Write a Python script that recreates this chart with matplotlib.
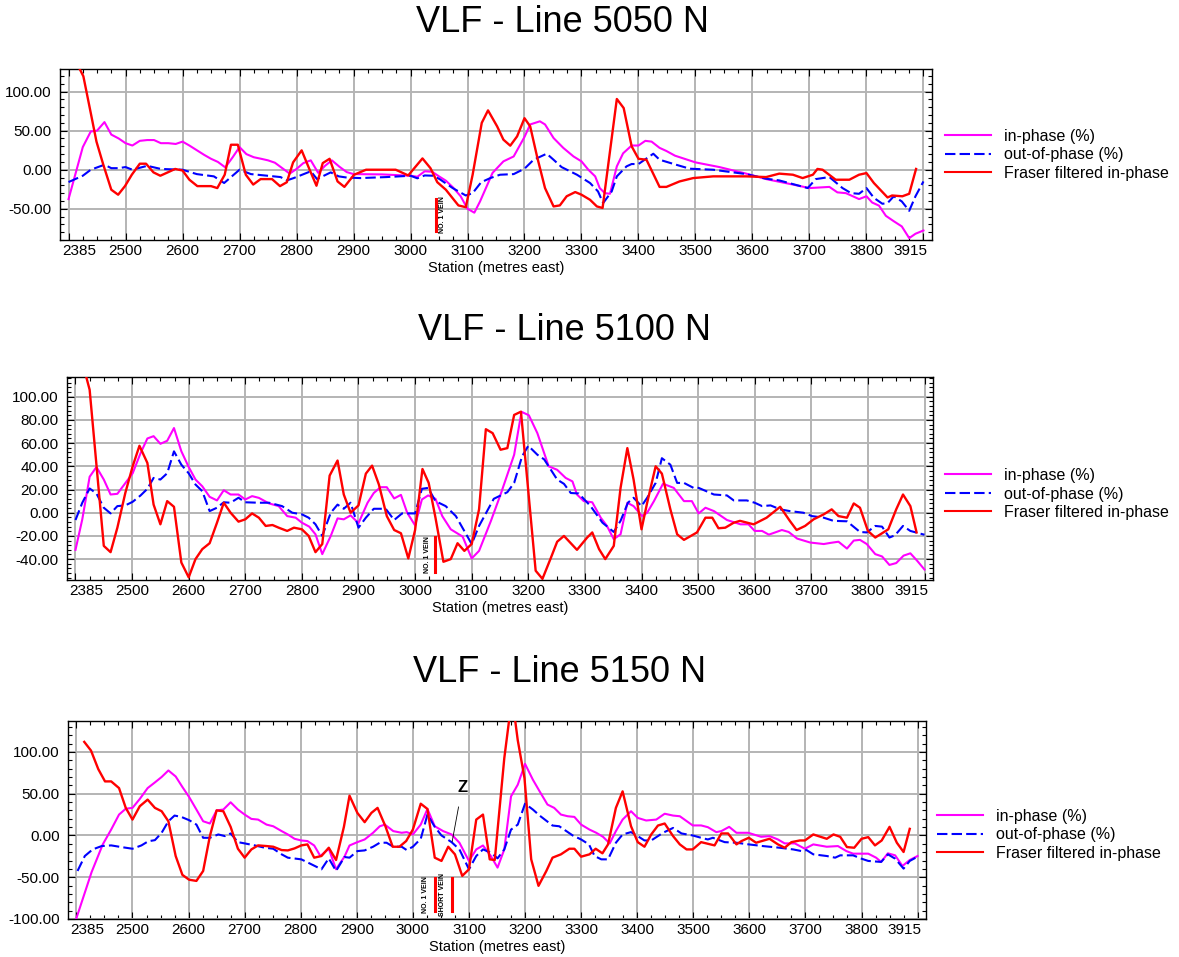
import matplotlib
matplotlib.use("Agg")
import matplotlib.pyplot as plt
from matplotlib.lines import Line2D
from matplotlib.ticker import MultipleLocator, FormatStrFormatter
from matplotlib.transforms import ScaledTranslation

plt.rcParams['font.family'] = ['Liberation Sans', 'DejaVu Sans']

# ---------------- data : Line 5050 N ----------------
s1_in = [2400, 2425, 2439, 2450, 2463, 2475, 2488, 2500, 2512, 2525,
         2538, 2550, 2562, 2575, 2588, 2600, 2612, 2625, 2638, 2650,
         2662, 2675, 2688, 2700, 2712, 2725, 2738, 2750, 2762, 2775,
         2788, 2800, 2812, 2825, 2838, 2850, 2862, 2875, 2888, 2900,
         2950, 3000, 3012, 3025, 3038, 3050, 3062, 3075, 3088, 3100,
         3112, 3122, 3144, 3163, 3181, 3200, 3210, 3227, 3236, 3251,
         3268, 3286, 3300, 3312, 3324, 3332, 3341, 3350, 3362, 3373,
         3388, 3400, 3412, 3423, 3437, 3449, 3464, 3500, 3542, 3589,
         3624, 3671, 3700, 3735, 3749, 3764, 3787, 3800, 3810, 3822,
         3834, 3848, 3862, 3875, 3886, 3900]
v1_in = [-37.6, 29, 49, 50, 61, 45, 40, 34, 31, 37,
         38, 38, 34, 34, 33, 36, 31, 25, 19, 14,
         10, 3, 16, 29, 20, 16, 14, 12, 9, 2,
         -5, 1, 8.5, 12, -4, 5, 12, 4, -3, -5.6,
         -6, -7.7, -9, -2, -2.6, -8.5, -14, -23, -34, -50,
         -55, -40.6, -4, 10.7, 17, 42, 58, 62, 58, 40.6,
         28, 17, 10.7, 0, -8.5, -23.5, -30, -30.8, 4.3, 21,
         31, 31, 37, 36, 28, 24, 18, 9.4, 3.4, -5,
         -12, -19, -23.5, -22, -29, -30, -37.6, -34, -42, -46,
         -59, -66, -72.6, -87.6, -82, -77.8]

s1_out = [2400, 2425, 2439, 2463, 2475, 2488, 2500, 2512, 2538, 2562,
          2600, 2625, 2655, 2673, 2700, 2720, 2749, 2772, 2783, 2795,
          2825, 2836, 2860, 2874, 2888, 2912, 2958, 3000, 3012, 3025,
          3040, 3051, 3074, 3097, 3109, 3124, 3140, 3157, 3181, 3200,
          3216, 3239, 3251, 3265, 3292, 3315, 3329, 3338, 3353, 3362,
          3379, 3388, 3400, 3426, 3437, 3466, 3490, 3531, 3589, 3624,
          3647, 3671, 3697, 3711, 3735, 3758, 3773, 3787, 3800, 3813,
          3828, 3837, 3848, 3862, 3875, 3886, 3900]
v1_out = [-15.8, -7.7, 0, 6.4, 2, 2, 3.4, 0, 5, 1,
          0, -5.6, -8.5, -17, 0, -5.6, -7.7, -9.4, -13.7, -10.7,
          -2, -12, -3.4, -8.5, -10, -10.7, -9.4, -7.7, -11, -7.3,
          -7.7, -12, -23.5, -33, -30, -16, -10.7, -6.4, -5.6, 1.3,
          12.8, 20.5, 12.8, 3.4, -6.4, -17, -27.8, -42.7, -27.8, -8.5,
          4.3, 7.3, 7.3, 20.5, 12.8, 6.4, 1.3, 0, -5.6, -11.5,
          -13.7, -18.4, -23.5, -12, -9.4, -23.5, -30, -30.8, -23.5, -36,
          -43.6, -42.7, -34, -40.6, -52.6, -34, -15]

s1_fr = [2412, 2426, 2439, 2449, 2461, 2475, 2487, 2499, 2511, 2525,
         2536, 2549, 2561, 2574, 2587, 2600, 2612, 2626, 2650, 2661,
         2674, 2685, 2697, 2711, 2724, 2737, 2757, 2771, 2783, 2794,
         2809, 2823, 2835, 2846, 2858, 2872, 2884, 2901, 2922, 2974,
         2996, 3021, 3035, 3047, 3062, 3084, 3097, 3109, 3125, 3136,
         3152, 3163, 3175, 3187, 3200, 3210, 3222, 3236, 3251, 3262,
         3274, 3289, 3300, 3315, 3327, 3337, 3362, 3374, 3388, 3400,
         3414, 3437, 3449, 3472, 3496, 3531, 3589, 3624, 3647, 3671,
         3688, 3706, 3714, 3723, 3746, 3770, 3787, 3800, 3813, 3837,
         3845, 3863, 3875, 3887]
v1_fr = [140, 119.7, 72.6, 36, 6.4, -25.6, -32, -21, -6.4, 7.7,
         7.7, -3.4, -7.7, -3.4, 1, -1, -12.8, -21, -21, -23.5,
         -6.4, 32, 32, -6.4, -19, -12, -12, -21, -16, 9.4,
         24.8, 0, -20.5, 8.5, 14, -15, -22, -6.4, 0, 0,
         -7.3, 14.5, 2, -16, -25.6, -45.7, -48, -6.4, 60, 76,
         55.5, 38.5, 30.8, 42.7, 66, 55.5, 17, -23.5, -47, -45.7,
         -34, -28.6, -32, -38.5, -47, -49, 90.6, 79, 30, 14,
         12.8, -22, -22, -15, -10.7, -8.5, -8.5, -9.4, -5, -6.4,
         -10.7, -6.4, 1, 0, -12.8, -12.8, -6.4, -4.3, -17, -35.5,
         -33, -34, -30.8, 1]

# ---------------- data : Line 5100 N ----------------
s2_in = [2400, 2412, 2425, 2437, 2450, 2462, 2474, 2501, 2515, 2527,
         2538, 2550, 2562, 2574, 2587, 2600, 2612, 2624, 2637, 2650,
         2662, 2674, 2688, 2700, 2712, 2724, 2742, 2759, 2774, 2789,
         2800, 2813, 2824, 2836, 2851, 2863, 2874, 2886, 2900, 2916,
         2927, 2939, 2950, 2963, 2975, 2986, 3000, 3012, 3023, 3036,
         3048, 3063, 3084, 3100, 3113, 3134, 3151, 3175, 3188, 3201,
         3216, 3236, 3251, 3266, 3278, 3286, 3298, 3313, 3328, 3339,
         3351, 3363, 3375, 3386, 3401, 3410, 3422, 3438, 3457, 3475,
         3489, 3501, 3513, 3528, 3551, 3575, 3589, 3600, 3613, 3625,
         3636, 3648, 3660, 3675, 3698, 3722, 3734, 3748, 3763, 3775,
         3786, 3798, 3813, 3825, 3838, 3850, 3863, 3875, 3887, 3900]
v2_in = [-32, -5.7, 31, 39.4, 28.6, 15.7, 16.3, 34, 51.4, 64,
         66, 59.4, 62, 73, 53, 39.4, 28.6, 22.8, 13.7, 10.6,
         19.4, 15.7, 15.7, 11.4, 14.3, 12.8, 8, 5.7, -2.9, -4.3,
         -8.6, -12, -18.6, -35.7, -20, -4.9, -5.7, -2.3, -9, 8.6,
         17, 22, 22, 12.3, 15.4, 0, -10.9, 11.4, 14.9, 12,
         -2.9, -14.3, -20.6, -39.4, -32.9, -7, 15.7, 50, 87, 84,
         68.6, 40, 37, 30, 27, 15.7, 10, 9, -4.3, -11.4,
         -22.8, -18.6, 8.6, 5.7, -2.9, 0, 10, 25, 21.4, 10,
         10, -0.6, 4.3, 1.4, -6.3, -10, -10, -15.7, -15.7, -18.9,
         -17, -14.9, -16.6, -22.3, -25.7, -27, -26, -25, -30.9, -24,
         -23.4, -27, -35.7, -37.7, -45, -43.4, -37, -35, -41.4, -49]

s2_out = [2400, 2412, 2425, 2437, 2450, 2462, 2474, 2488, 2501, 2515,
          2527, 2538, 2550, 2562, 2574, 2587, 2600, 2612, 2624, 2637,
          2650, 2662, 2674, 2688, 2700, 2724, 2742, 2765, 2783, 2800,
          2812, 2824, 2836, 2851, 2863, 2874, 2886, 2900, 2913, 2927,
          2948, 2963, 2977, 3000, 3012, 3023, 3036, 3054, 3072, 3100,
          3113, 3139, 3163, 3175, 3189, 3200, 3216, 3228, 3251, 3263,
          3275, 3289, 3310, 3331, 3351, 3363, 3376, 3386, 3400, 3410,
          3425, 3436, 3451, 3463, 3475, 3492, 3501, 3528, 3551, 3563,
          3586, 3600, 3613, 3628, 3645, 3662, 3686, 3701, 3722, 3739,
          3763, 3786, 3798, 3813, 3825, 3838, 3848, 3862, 3875, 3900]
v2_out = [-6.3, 8.6, 20.9, 16.6, 4.3, -0.6, 5.7, 6.3, 9.4, 14.9,
          20.6, 30, 28.6, 34, 52.9, 41.4, 34, 24.3, 18.6, 1.4,
          4.3, 9, 8.6, 12.9, 9, 8.6, 8.6, 5.7, 0, -1.4,
          -4.3, -10, -20, 0, 7, 3.4, 8.6, -12.9, -4.3, 3.4,
          3.4, -6.3, -0.6, -0.6, 20.6, 21.4, 10, 5.7, -2.9, -27,
          -11.4, 12, 17.7, 25.7, 48.6, 57.7, 50, 46, 28.6, 24.9,
          17, 16.6, 5.7, -8.6, -16.6, -7, 8.6, 12.9, 5.7, 12.9,
          25.7, 47, 41.4, 25.7, 25.7, 21.4, 21.4, 15.7, 14.9, 10.6,
          10.6, 8.6, 5.7, 6.3, 2.9, 1.4, 0, -2.9, -4.3, -7,
          -7.4, -16.6, -17, -11.4, -12, -21.4, -19.4, -11.4, -15.7, -19]

s2_fr = [2412, 2425, 2450, 2462, 2474, 2488, 2501, 2513, 2527, 2538,
         2550, 2562, 2574, 2587, 2600, 2612, 2624, 2637, 2650, 2662,
         2674, 2688, 2700, 2712, 2724, 2736, 2748, 2759, 2774, 2786,
         2800, 2812, 2824, 2836, 2849, 2863, 2874, 2886, 2900, 2913,
         2924, 2936, 2950, 2963, 2975, 2988, 3000, 3013, 3024, 3036,
         3050, 3063, 3075, 3087, 3100, 3113, 3125, 3137, 3151, 3163,
         3175, 3187, 3213, 3225, 3239, 3251, 3263, 3286, 3304, 3313,
         3325, 3336, 3351, 3363, 3375, 3386, 3400, 3410, 3425, 3436,
         3451, 3463, 3475, 3498, 3513, 3525, 3536, 3548, 3563, 3574,
         3598, 3621, 3645, 3662, 3674, 3689, 3704, 3722, 3736, 3748,
         3763, 3775, 3786, 3800, 3813, 3836, 3850, 3862, 3875, 3886]
v2_fr = [130, 106, -28.6, -34, -12.9, 17, 40, 57.7, 42.9, 7,
         -10, 10, 5.1, -42.9, -55.7, -40, -31.4, -26.3, -8.6, 8.6,
         0, -7.7, -5.7, -0.6, -4.3, -11.4, -10.6, -12.9, -15.7, -12.9,
         -14.3, -20, -34, -27, 32, 45, 15.7, 0, 6.3, 33.7,
         40.6, 24.3, -2.9, -14.9, -17.7, -39.4, -14.9, 37.7, 25.7, -4.3,
         -42.3, -40, -26.3, -32.9, -27, 2.9, 72, 68.6, 54.3, 55.7,
         84.3, 87.1, -50, -57, -40, -25, -20, -32, -21.4, -17,
         -31.4, -40, -28.6, 21.4, 55.7, 28.6, -14.3, 8.6, 40, 33.7,
         2.9, -18.6, -23.4, -17, -4.3, -4.3, -13.4, -12.9, -8.6, -7,
         -10, -4.3, 5.1, -7, -14.9, -11.4, -5.7, -1.4, 2.9, -2.9,
         -4.3, 8, 4.3, -15.7, -21.4, -14.3, 2.9, 15.7, 5.7, -17]

# ---------------- data : Line 5150 N ----------------
s3_in = [2400, 2427, 2447, 2462, 2476, 2488, 2500, 2513, 2527, 2540,
         2552, 2564, 2577, 2589, 2601, 2614, 2626, 2638, 2650, 2662,
         2675, 2688, 2700, 2712, 2724, 2739, 2751, 2766, 2777, 2789,
         2801, 2812, 2824, 2835, 2850, 2863, 2878, 2887, 2901, 2914,
         2929, 2941, 2950, 2965, 2980, 2989, 3000, 3014, 3026, 3039,
         3054, 3069, 3083, 3100, 3113, 3125, 3139, 3151, 3163, 3175,
         3187, 3200, 3214, 3226, 3240, 3252, 3264, 3276, 3288, 3300,
         3315, 3327, 3339, 3351, 3362, 3374, 3389, 3401, 3416, 3434,
         3449, 3464, 3476, 3499, 3514, 3526, 3541, 3550, 3564, 3577,
         3598, 3621, 3636, 3651, 3663, 3681, 3699, 3714, 3738, 3758,
         3773, 3785, 3812, 3826, 3835, 3847, 3860, 3873, 3886, 3900]
v3_in = [-99, -44, -10.7, 7.1, 25, 32, 33, 43.7, 56.7, 63.5,
         70, 77.8, 70.6, 58, 46, 31, 17, 14.3, 30, 31,
         39.7, 31, 25, 19.8, 19, 13, 11, 5.2, 1.2, -4,
         -6, -6.7, -12, -24.6, -15.9, -40.5, -25.4, -12, -8, -4.8,
         3.2, 11, 13, 5.2, 3.2, 4, 1.2, 13, 31.7, 11,
         5.2, 1.2, -8.7, -30.5, -16.7, -12, -24.6, -38.5, -16.7, 46.8,
         60.7, 85.7, 66.7, 52.8, 37, 33, 25, 23, 22.2, 13,
         7, 3.2, -1.6, -9.5, 5.2, 19, 29, 21, 17.9, 19,
         26, 23.8, 23, 12, 12, 9.9, 4, 5.2, 10.3, 3.2,
         3.2, -1.6, -0.8, -4.8, -9.5, -9.5, -15.9, -10.7, -13.5, -12.7,
         -18.7, -21.8, -21.8, -26.6, -31.7, -21.4, -23.8, -36.5, -29.4, -24.6]

s3_out = [2402, 2415, 2429, 2445, 2462, 2480, 2500, 2516, 2528, 2540,
          2552, 2564, 2575, 2587, 2601, 2614, 2626, 2638, 2653, 2665,
          2675, 2688, 2700, 2718, 2736, 2751, 2766, 2777, 2801, 2813,
          2825, 2837, 2850, 2863, 2878, 2887, 2901, 2914, 2929, 2941,
          2953, 2965, 2980, 2989, 3000, 3014, 3026, 3039, 3051, 3069,
          3083, 3100, 3113, 3125, 3139, 3151, 3163, 3175, 3187, 3200,
          3214, 3226, 3249, 3261, 3285, 3300, 3314, 3324, 3336, 3348,
          3362, 3374, 3389, 3401, 3413, 3425, 3446, 3464, 3479, 3499,
          3514, 3526, 3535, 3556, 3577, 3599, 3624, 3654, 3678, 3693,
          3702, 3714, 3738, 3753, 3762, 3785, 3800, 3812, 3835, 3847,
          3860, 3875, 3886, 3900]
v3_out = [-42.5, -24.6, -16.7, -12.7, -11.9, -13.9, -15.9, -11.9, -7, -5.6,
          3.2, 17, 23.8, 22.2, 18.3, 13, -2.8, -2.8, 1.2, -0.8,
          2.4, -8, -9.5, -11.9, -14.7, -15.9, -22.6, -26.6, -28.6, -32.5,
          -36.5, -40.5, -27.4, -42.5, -25.8, -26.6, -18.7, -17.9, -13.5, -8.7,
          -8.7, -13.5, -13.5, -17.5, -13.5, -4, 25, 10.3, 0, -8,
          -16.7, -40.5, -24.6, -16.7, -20.6, -27.4, -16.7, 7, 13, 38,
          31, 23.8, 11.9, 11, 0, -4.8, -10.7, -24.6, -28.6, -28.6,
          -8.7, 1.2, 4, -0.8, -6, -6, 3.2, 9, 2.4, 0,
          -2.8, -4.8, -2.8, -8, -8.7, -10.7, -12.7, -14.7, -16.7, -18.7,
          -17.5, -22.6, -24.6, -26.6, -23.8, -23.8, -27.8, -30.5, -31.7, -22.6,
          -27.8, -39.7, -30.5, -25.4]

s3_fr = [2414, 2426, 2439, 2451, 2462, 2476, 2488, 2500, 2513, 2527,
         2540, 2552, 2564, 2577, 2589, 2601, 2614, 2626, 2638, 2650,
         2662, 2675, 2688, 2700, 2712, 2724, 2739, 2751, 2766, 2777,
         2789, 2801, 2812, 2824, 2837, 2850, 2863, 2877, 2887, 2901,
         2914, 2926, 2937, 2951, 2964, 2976, 2988, 3000, 3014, 3026,
         3039, 3051, 3063, 3075, 3088, 3100, 3113, 3125, 3137, 3146,
         3163, 3172, 3180, 3187, 3199, 3211, 3224, 3238, 3249, 3264,
         3279, 3288, 3300, 3315, 3326, 3338, 3348, 3362, 3374, 3389,
         3401, 3413, 3425, 3437, 3449, 3464, 3476, 3488, 3499, 3514,
         3538, 3550, 3562, 3577, 3586, 3599, 3612, 3636, 3651, 3663,
         3675, 3690, 3699, 3714, 3738, 3750, 3762, 3774, 3787, 3800,
         3812, 3824, 3836, 3850, 3863, 3875, 3886]
v3_fr = [112, 101.6, 79.4, 64.7, 64.7, 56.7, 33, 19, 35, 42.9,
         33, 29, 17, -24.6, -47.2, -53, -54.4, -42.5, -0.8, 30,
         29, 10.3, -15.9, -26.6, -16.7, -11.9, -12.7, -13.5, -17.5, -17.9,
         -15.5, -11.9, -10.7, -26.6, -24.6, -14.7, -29.4, 10.3, 47.6, 27,
         15.9, 27, 33, 11, -13.5, -13.5, -6.7, 7.1, 38, 31.7,
         -26.6, -30.5, -13.5, -22.6, -48.4, -40.5, 19, 25, -28.6, -29.4,
         92.5, 140, 150, 114, 68.7, -28.6, -60.3, -42.5, -26.6, -22.6,
         -15.9, -15.9, -25.4, -22.6, -15.9, -21.4, -10.7, 33, 52.8, 11,
         -8, -13.5, 1.2, 11.9, 14.3, -0.8, -10.7, -16.7, -16.7, -8,
         -11.9, 2.4, 2.4, -10.7, -6.7, -2.8, -8.7, -4, -10.7, -14.7,
         -8, -6, -6, 1.2, -4, 1.2, -1.6, -13.9, -14.7, -4,
         -2, -11.9, -6, 10.3, -8.7, -19.8, 7.9]

titles = ["VLF - Line 5050 N", "VLF - Line 5100 N", "VLF - Line 5150 N"]
legend_labels = ["in-phase (%)", "out-of-phase (%)", "Fraser filtered in-phase"]
x_ticks = list(range(2400, 3901, 100))
x_ticklabels = ["2385"] + [str(t) for t in x_ticks[1:-1]] + ["3915"]

MAG = "#ff00ff"
BLU = "#0000ff"
RED = "#ff0000"

W, H = 1179, 957
fig = plt.figure(figsize=(W / 100, H / 100), dpi=100)


def fig_rect(left, top, right, bottom):
    return [left / W, 1 - bottom / H, (right - left) / W, (bottom - top) / H]


def draw_panel(rect, s_in, v_in, s_out, v_out, s_fr, v_fr, ylim, ystep, yminor,
               title, title_xy, leg_xy):
    ax = fig.add_axes(rect)
    ax.plot(s_in, v_in, color=MAG, lw=1.5, zorder=3)
    ax.plot(s_out, v_out, color=BLU, lw=1.5, dashes=(5, 2), zorder=3)
    ax.plot(s_fr, v_fr, color=RED, lw=1.7, zorder=4)
    ax.set_xlim(2385, 3915)
    ax.set_ylim(*ylim)
    ax.set_xticks(x_ticks)
    ax.set_xticklabels(x_ticklabels)
    ax.xaxis.set_minor_locator(MultipleLocator(25))
    ax.yaxis.set_major_locator(MultipleLocator(ystep))
    ax.yaxis.set_minor_locator(MultipleLocator(yminor))
    ax.yaxis.set_major_formatter(FormatStrFormatter('%.2f'))
    ax.tick_params(which='both', direction='in', top=True, right=True,
                   color='black', width=0.8, labelsize=11)
    ax.tick_params(which='major', length=5)
    ax.tick_params(which='minor', length=3)
    ax.tick_params(axis='y', pad=6)
    ax.tick_params(axis='x', pad=3)
    labs = ax.get_xticklabels()
    labs[0].set_horizontalalignment('left')
    labs[0].set_transform(labs[0].get_transform() +
                          ScaledTranslation(-6 / 100, 0, fig.dpi_scale_trans))
    labs[-1].set_horizontalalignment('right')
    labs[-1].set_transform(labs[-1].get_transform() +
                           ScaledTranslation(4 / 100, 0, fig.dpi_scale_trans))
    ax.grid(True, which='major', color='#b4b4b4', lw=1.4)
    ax.set_axisbelow(True)
    for sp in ax.spines.values():
        sp.set_linewidth(1.0)
        sp.set_color('black')
    ax.set_xlabel("Station (metres east)", fontsize=10.5, labelpad=2)
    fig.text(title_xy[0] / W, 1 - title_xy[1] / H, title, fontsize=26,
             ha='center', va='center')
    handles = [Line2D([], [], color=MAG, lw=1.5),
               Line2D([], [], color=BLU, lw=1.5, dashes=(5, 2)),
               Line2D([], [], color=RED, lw=1.5)]
    ax.legend(handles, legend_labels, loc='center left',
              bbox_to_anchor=(leg_xy[0] / W, 1 - leg_xy[1] / H),
              bbox_transform=fig.transFigure, frameon=False, fontsize=11.5,
              handlelength=2.9, handletextpad=0.8, labelspacing=0.22,
              borderpad=0, borderaxespad=0)
    return ax


ax1 = draw_panel(fig_rect(60, 69, 932, 240), s1_in, v1_in, s1_out, v1_out,
                 s1_fr, v1_fr, (-90, 129), 50, 10, titles[0], (562, 22), (945, 155))
ax2 = draw_panel(fig_rect(67, 377, 933, 580), s2_in, v2_in, s2_out, v2_out,
                 s2_fr, v2_fr, (-58, 117), 20, 4, titles[1], (565, 330), (945, 494))
ax3 = draw_panel(fig_rect(68, 721, 926, 919), s3_in, v3_in, s3_out, v3_out,
                 s3_fr, v3_fr, (-100, 137), 50, 10, titles[2], (560, 673), (937, 835))

# vein markers
vein_kw = dict(rotation=90, fontsize=5, fontweight='bold', ha='center', va='center')
ax1.plot([3045, 3045], [-37, -79], color=RED, lw=2.2, zorder=5)
ax1.text(3057, -58, "NO. 1 VEIN", **vein_kw)
ax2.plot([3036, 3036], [-21, -51], color=RED, lw=2.2, zorder=5)
ax2.text(3022, -36, "NO. 1 VEIN", **vein_kw)
ax3.plot([3039, 3039], [-51.5, -91], color=RED, lw=2.2, zorder=5)
ax3.plot([3069, 3069], [-51.5, -91], color=RED, lw=2.2, zorder=5)
ax3.text(3023, -71, "NO. 1 VEIN", **vein_kw)
ax3.text(3053, -71, "SHORT VEIN", **vein_kw)
ax3.annotate("Z", xy=(3070, -7.5), xytext=(3088, 58), fontsize=12, fontweight='bold',
             ha='center', va='center',
             arrowprops=dict(arrowstyle='-', color='black', lw=0.6, shrinkA=7, shrinkB=0))

fig.savefig("out.png", dpi=100)
